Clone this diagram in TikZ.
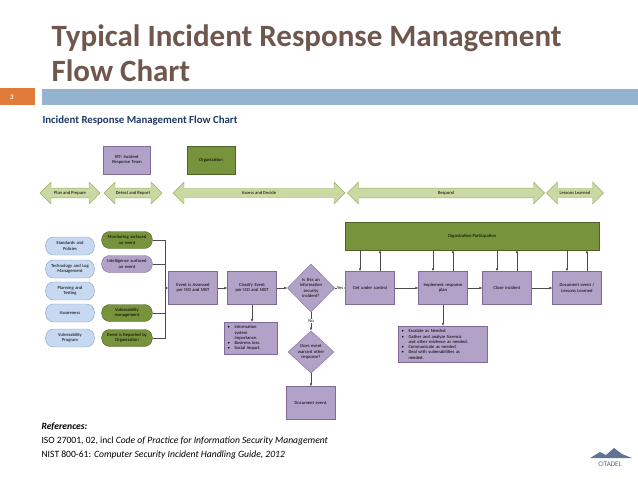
\documentclass[tikz,border=0pt]{standalone}
\usepackage{fontspec}
\setmainfont{Carlito}
\usetikzlibrary{shapes.geometric,shapes.arrows,shapes.symbols,arrows.meta,positioning}

\definecolor{titlebrown}{HTML}{6F574E}
\definecolor{barblue}{HTML}{94B3D1}
\definecolor{pageorange}{HTML}{E07B39}
\definecolor{navy}{HTML}{1F3864}
\definecolor{lilac}{HTML}{B3A2C7}
\definecolor{lilacline}{HTML}{7F6A9B}
\definecolor{olive}{HTML}{77933C}
\definecolor{oliveline}{HTML}{4F6228}
\definecolor{phasegreen}{HTML}{C9D9A3}
\definecolor{phaseline}{HTML}{9BB05F}
\definecolor{skyblue}{HTML}{C6D9F1}
\definecolor{skyline}{HTML}{7F9DC4}

\tikzset{
  tiny/.style={font=\fontsize{4.6}{5.3}\selectfont, align=center},
  task/.style={tiny, draw=lilacline, fill=lilac, minimum width=46pt, minimum height=33pt, text width=42pt},
  decide/.style={tiny, diamond, draw=lilacline, fill=lilac, inner sep=0pt, text width=28pt, minimum width=46pt, minimum height=48pt},
  notes/.style={tiny, draw=lilacline, fill=lilac, align=left, anchor=north west},
  prep/.style={tiny, rounded corners=8pt, draw=skyline, fill=skyblue, minimum width=46pt, minimum height=18pt, text width=42pt},
  source/.style={tiny, rounded corners=8pt, draw=oliveline, minimum width=46pt, minimum height=17pt, text width=44pt},
  phase/.style={tiny, double arrow, draw=phaseline, fill=phasegreen, minimum height=#1, minimum width=22pt, double arrow head extend=4pt, inner sep=1pt},
  flow/.style={-{Latex[length=3pt,width=2.5pt]}, draw=black!70, line width=0.5pt},
}
\newcommand{\bul}{\makebox[7pt][l]{\textbullet}}

\begin{document}
\begin{tikzpicture}[x=1pt,y=-1pt]
    \useasboundingbox (0,0) rectangle (638,479);

    % header
    \node[anchor=base west, text=titlebrown, font=\fontsize{31}{34}\selectfont\bfseries] (title1) at (48,46) {Typical Incident Response Management};
    \node[anchor=base west, text=titlebrown, font=\fontsize{31}{34}\selectfont\bfseries] (title2) at (48,81) {Flow Chart};
    \fill[pageorange] (0,88) rectangle (35,105);
    \node[text=white, font=\fontsize{7}{8}\selectfont\bfseries] (page) at (12,97) {3};
    \fill[barblue] (42,89) rectangle (638,105);
    \node[anchor=base west, text=navy, font=\fontsize{10.8}{12}\selectfont\bfseries] (sub) at (39,123) {Incident Response Management Flow Chart};

    % legend
    \node[tiny, draw=lilacline, fill=lilac, minimum width=46pt, minimum height=28pt, text width=40pt] (irt) at (127,160) {IRT: Incident\\Response Team};
    \node[tiny, draw=oliveline, fill=olive, minimum width=48pt, minimum height=28pt] (org) at (211,160) {Organization};

    % phases
    \node[phase=60pt] (plan) at (70,193) {Plan and Prepare};
    \node[phase=58pt] (detect) at (133,193) {Detect and Report};
    \node[phase=172pt] (assess) at (259,193) {Assess and Decide};
    \node[phase=197pt] (respond) at (446,193) {Respond};
    \node[phase=57pt] (lessons) at (575,193) {Lessons Learned};

    % plan and prepare
    \node[prep] (std) at (70,246) {Standards and\\Policies};
    \node[prep] (tech) at (70,269) {Technology and Log\\Management};
    \node[prep] (test) at (70,291) {Planning and\\Testing};
    \node[prep] (aware) at (70,313) {Awareness};
    \node[prep] (vprog) at (70,338) {Vulnerability\\Program};

    % detect and report
    \node[source, fill=olive] (mon) at (127,240) {Monitoring surfaced\\an event};
    \node[source, draw=lilacline, fill=lilac] (intel) at (127,264) {Intelligence surfaced\\an event};
    \node[source, fill=olive] (vman) at (127,313) {Vulnerability\\management};
    \node[source, fill=olive] (rep) at (127,338) {Event is Reported by\\Organization};

    % assess and decide
    \node[task] (assessed) at (193,288) {Event is Assessed\\per ISO and NIST};
    \node[task] (classify) at (252,288) {Classify Event\\per ISO and NIST};
    \node[decide] (isinc) at (311,288) {Is this an\\information\\security\\incident?};
    \node[notes, text width=46pt] (impact) at (224,322) {\bul Information\\\hspace*{7pt}system\\\hspace*{7pt}importance.\\\bul Business loss.\\\bul Social impact.};
    \node[decide, minimum height=36pt] (other) at (311,352) {Does event\\warrant other\\response?};
    \node[task] (docev) at (311,403) {Document event.};

    % respond
    \node[tiny, draw=oliveline, fill=olive, minimum width=254pt, minimum height=28pt] (part) at (472,236) {Organization Participation};
    \node[task] (control) at (370,288) {Get under control};
    \node[task] (impl) at (443,288) {Implement response\\plan};
    \node[task] (close) at (507,288) {Close incident};
    \node[task] (doclsn) at (577,288) {Document event /\\Lessons Learned};
    \node[notes, text width=82pt] (actions) at (398,326) {\bul Escalate as Needed.\\\bul Gather and analyze forensic\\\hspace*{7pt}and other evidence as needed.\\\bul Communicate as needed.\\\bul Deal with vulnerabilities as\\\hspace*{7pt}needed.};

    % sources join
    \coordinate (join) at (165,288);
    \foreach \s in {mon,intel,vman,rep} \draw[draw=black!70] (\s.east) -| (join);
    \draw[flow] (join) -- (assessed);

    \draw[flow] (assessed) -- (classify);
    \draw[flow] (classify) -- (isinc);
    \draw[flow] (classify) -- (classify|-impact.north);
    \draw[flow] (isinc) -- node[tiny, fill=white, inner sep=0.5pt] {Yes} (control);
    \draw[flow] (isinc) -- node[tiny, fill=white, inner sep=0.5pt] {No} (other);
    \draw[flow] (other) -- (docev);
    \draw[flow] (control) -- (impl);
    \draw[flow] (impl) -- (close);
    \draw[flow] (close) -- (doclsn);
    \draw[flow] (impl) -- (impl|-actions.north);

    % participation loops
    \foreach \b in {control,impl,close,doclsn} {
      \draw[flow] ([xshift=-10pt]\b.north|-part.south) -- ([xshift=-10pt]\b.north);
      \draw[flow] ([xshift=10pt]\b.north) -- ([xshift=10pt]\b.north|-part.south);
    }

    % references
    \node[anchor=base west, font=\fontsize{9.6}{11}\selectfont\bfseries\itshape] (refs) at (38,429) {References:};
    \node[anchor=base west, font=\fontsize{9.6}{11}\selectfont] (ref1) at (38,443) {ISO 27001, 02, incl \textit{Code of Practice for Information Security Management}};
    \node[anchor=base west, font=\fontsize{9.6}{11}\selectfont] (ref2) at (38,457) {NIST 800-61: \textit{Computer Security Incident Handling Guide, 2012}};

    % logo
    \fill[navy!70] (590,458) -- (600,452) -- (606,455) -- (614,448) -- (622,454) -- (632,458) -- cycle;
    \node[text=navy!80, font=\fontsize{7}{8}\selectfont] (logo) at (610,464) {CITADEL};

\end{tikzpicture}
\end{document}
